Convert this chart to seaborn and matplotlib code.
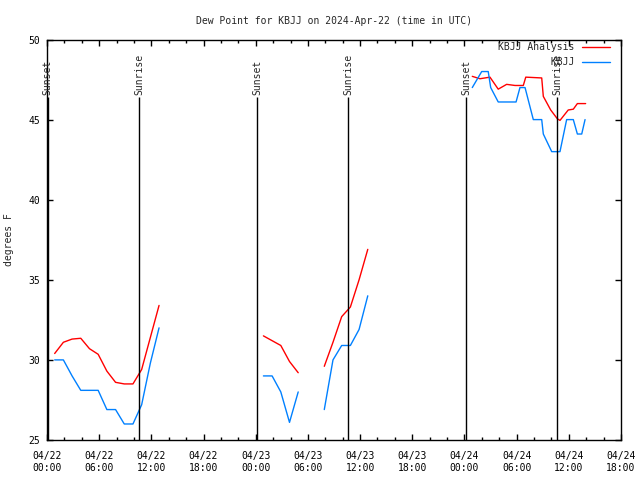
import matplotlib
matplotlib.use("Agg")
import numpy as np
import pandas as pd
import seaborn as sns
import matplotlib.pyplot as plt
import matplotlib.dates as mdates
from matplotlib.lines import Line2D
from matplotlib.ticker import MultipleLocator

TITLE = "Dew Point for KBJJ on 2024-Apr-22 (time in UTC)"
SERIES = ["KBJJ Analysis", "KBJJ"]
COLORS = {"KBJJ Analysis": "#ff0000", "KBJJ": "#0080ff"}

# analysis (red)
analysis_times = [
    "2024-04-22 00:53", "2024-04-22 01:53", "2024-04-22 02:53", "2024-04-22 03:53",
    "2024-04-22 04:53", "2024-04-22 05:53", "2024-04-22 06:53", "2024-04-22 07:53",
    "2024-04-22 08:53", "2024-04-22 09:53", "2024-04-22 10:53", "2024-04-22 11:53",
    "2024-04-22 12:53",
    "2024-04-23 00:53", "2024-04-23 01:53", "2024-04-23 02:53", "2024-04-23 03:53",
    "2024-04-23 04:53",
    "2024-04-23 07:53", "2024-04-23 08:53", "2024-04-23 09:53", "2024-04-23 10:53",
    "2024-04-23 11:53", "2024-04-23 12:53",
    "2024-04-24 00:54", "2024-04-24 01:47", "2024-04-24 02:56", "2024-04-24 03:53",
    "2024-04-24 04:51", "2024-04-24 05:49", "2024-04-24 06:46", "2024-04-24 07:03",
    "2024-04-24 08:53", "2024-04-24 09:04", "2024-04-24 09:55", "2024-04-24 10:41",
    "2024-04-24 10:59", "2024-04-24 11:56", "2024-04-24 12:31", "2024-04-24 12:59",
    "2024-04-24 13:56",
]
analysis_dewpt = [
    30.4, 31.1, 31.3, 31.35, 30.7, 30.35, 29.3, 28.6, 28.5, 28.5, 29.4, 31.4, 33.4,
    31.5, 31.2, 30.9, 29.9, 29.2,
    29.6, 31.1, 32.7, 33.3, 35.0, 36.9,
    47.7, 47.55, 47.65, 46.9, 47.2, 47.13, 47.13, 47.65,
    47.6, 46.45, 45.6, 45.05, 44.95, 45.6, 45.65, 46.0, 46.0,
]

# observations (blue)
obs_times = [
    "2024-04-22 00:53", "2024-04-22 01:53", "2024-04-22 02:53", "2024-04-22 03:53",
    "2024-04-22 04:53", "2024-04-22 05:53", "2024-04-22 06:53", "2024-04-22 07:53",
    "2024-04-22 08:53", "2024-04-22 09:53", "2024-04-22 10:53", "2024-04-22 11:53",
    "2024-04-22 12:53",
    "2024-04-23 00:53", "2024-04-23 01:53", "2024-04-23 02:53", "2024-04-23 03:53",
    "2024-04-23 04:53",
    "2024-04-23 07:53", "2024-04-23 08:53", "2024-04-23 09:53", "2024-04-23 10:53",
    "2024-04-23 11:53", "2024-04-23 12:53",
    "2024-04-24 00:54", "2024-04-24 01:59", "2024-04-24 02:44", "2024-04-24 03:01",
    "2024-04-24 03:53", "2024-04-24 05:56", "2024-04-24 06:23", "2024-04-24 06:58",
    "2024-04-24 07:55", "2024-04-24 08:53", "2024-04-24 09:04", "2024-04-24 10:02",
    "2024-04-24 10:59", "2024-04-24 11:45", "2024-04-24 12:31", "2024-04-24 12:59",
    "2024-04-24 13:29", "2024-04-24 13:52",
]
obs_dewpt = [
    30.0, 30.0, 29.0, 28.1, 28.1, 28.1, 26.9, 26.9, 26.0, 26.0, 27.2, 29.8, 32.0,
    29.0, 29.0, 28.0, 26.1, 28.0,
    26.9, 30.0, 30.9, 30.9, 31.9, 34.0,
    47.0, 48.0, 48.0, 47.0, 46.1, 46.1, 47.0, 47.0,
    45.0, 45.0, 44.1, 43.0, 43.0, 45.0, 45.0, 44.1, 44.1, 45.0,
]

sun_times = ["2024-04-22 00:06", "2024-04-22 10:38", "2024-04-23 00:12",
             "2024-04-23 10:40", "2024-04-24 00:11", "2024-04-24 10:38"]
sun_labels = ["Sunset", "Sunrise", "Sunset", "Sunrise", "Sunset", "Sunrise"]


def to_frame(name, times, values):
    d = pd.DataFrame({"time": pd.to_datetime(times), "dewpt": values})
    # break the line wherever there is a gap in the record
    gap = d["time"].diff() > pd.Timedelta(hours=2.5)
    d["segment"] = gap.cumsum()
    d["series"] = name
    return d


df = pd.concat([to_frame(SERIES[0], analysis_times, analysis_dewpt),
                to_frame(SERIES[1], obs_times, obs_dewpt)], ignore_index=True)

sns.set_style("ticks")
plt.rcParams["font.family"] = ["DejaVu Sans Mono"]
plt.rcParams["font.size"] = 7

fig = plt.figure(figsize=(6.4, 4.8), dpi=100)
ax = fig.add_axes([47 / 640, 40 / 480, 574 / 640, 400.5 / 480])

sns.lineplot(data=df, x="time", y="dewpt", hue="series", units="segment",
             estimator=None, palette=COLORS, linewidth=1.0, legend=False, ax=ax)

sun_dt = pd.to_datetime(sun_times)
ax.vlines(sun_dt, 25, 46.4, color="black", linewidth=1.0)
for t, lab in zip(sun_dt, sun_labels):
    ax.text(t, 46.55, lab, rotation=90, ha="center", va="bottom", fontsize=7)

ax.set_xlim(pd.Timestamp("2024-04-22 00:00"), pd.Timestamp("2024-04-24 18:00"))
ax.set_ylim(25, 50)
ax.xaxis.set_major_locator(mdates.HourLocator(byhour=[0, 6, 12, 18]))
ax.xaxis.set_minor_locator(mdates.HourLocator(byhour=range(0, 24, 2)))
ax.xaxis.set_major_formatter(mdates.DateFormatter("%m/%d\n%H:%M"))
ax.yaxis.set_major_locator(MultipleLocator(5))

ax.tick_params(which="both", direction="in", top=True, right=True,
               color="black", labelcolor="black", labelsize=7)
ax.tick_params(axis="x", which="major", length=4, width=1, pad=8)
ax.tick_params(axis="x", which="minor", length=2.5, width=1)
ax.tick_params(axis="y", which="major", length=4, width=1, pad=5)
for s in ax.spines.values():
    s.set_color("black")
    s.set_linewidth(1.0)

ax.set_xlabel("")
ax.set_ylabel("degrees F", fontsize=7, labelpad=10)
ax.set_title(TITLE, fontsize=7, pad=11)

width = max(len(s) for s in SERIES)
handles = [Line2D([], [], color=COLORS[s], linewidth=1.0) for s in SERIES]
labels = [s.rjust(width) for s in SERIES]
ax.legend(handles, labels, loc="upper right", bbox_to_anchor=(0.981, 0.994),
          frameon=False, markerfirst=False, handlelength=2.9, handletextpad=0.8,
          borderpad=0, borderaxespad=0, labelspacing=0.55, fontsize=7)

fig.savefig("out.png", dpi=100)
